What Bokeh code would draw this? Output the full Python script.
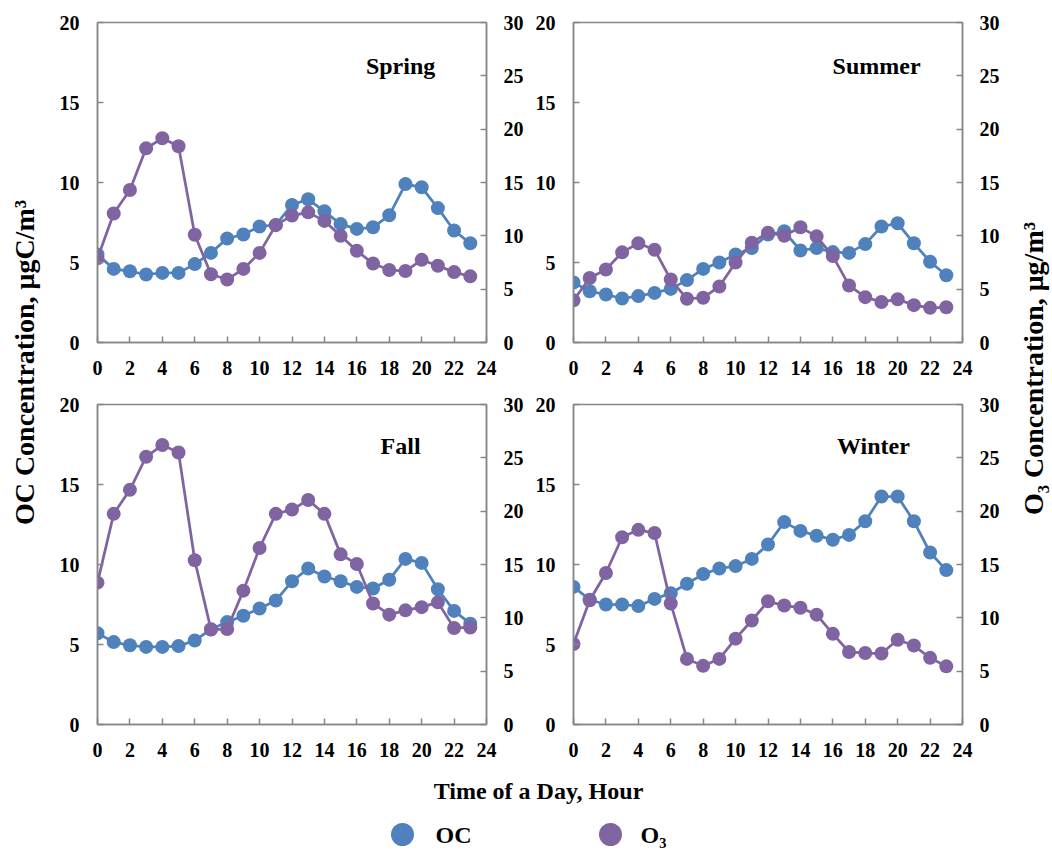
import math
from bokeh.plotting import figure
from bokeh.models import Range1d, LinearAxis, FixedTicker, Label
from bokeh.layouts import row, column
from bokeh.embed import file_html
from bokeh.resources import INLINE

hours = list(range(24))

spring_oc = [5.5, 4.6, 4.45, 4.25, 4.35, 4.35, 4.9, 5.6, 6.5, 6.75, 7.25, 7.35, 8.6, 8.95, 8.2, 7.4, 7.1, 7.2, 7.95, 9.9, 9.7, 8.4, 7.0, 6.2]
spring_o3 = [7.9, 12.1, 14.3, 18.2, 19.15, 18.4, 10.1, 6.4, 5.9, 6.9, 8.4, 11.0, 11.9, 12.2, 11.4, 10.0, 8.6, 7.4, 6.8, 6.7, 7.75, 7.2, 6.6, 6.2]

summer_oc = [3.75, 3.2, 3.0, 2.75, 2.9, 3.1, 3.35, 3.9, 4.6, 5.0, 5.5, 5.9, 6.75, 6.95, 5.75, 5.9, 5.65, 5.6, 6.15, 7.25, 7.45, 6.2, 5.05, 4.2]
summer_o3 = [3.95, 6.05, 6.85, 8.45, 9.3, 8.7, 5.9, 4.1, 4.2, 5.25, 7.5, 9.35, 10.3, 10.0, 10.8, 9.95, 8.1, 5.35, 4.25, 3.8, 4.05, 3.5, 3.25, 3.3]

fall_oc = [5.7, 5.15, 4.95, 4.85, 4.85, 4.9, 5.25, 5.95, 6.4, 6.8, 7.25, 7.75, 8.95, 9.75, 9.25, 8.95, 8.6, 8.5, 9.05, 10.35, 10.1, 8.45, 7.1, 6.3]
fall_o3 = [13.3, 19.75, 22.0, 25.1, 26.2, 25.5, 15.4, 8.9, 8.95, 12.55, 16.55, 19.75, 20.15, 21.05, 19.75, 15.95, 15.05, 11.35, 10.3, 10.7, 11.0, 11.45, 9.05, 9.1]

winter_oc = [8.6, 7.8, 7.5, 7.5, 7.4, 7.85, 8.2, 8.8, 9.4, 9.75, 9.9, 10.35, 11.25, 12.65, 12.1, 11.8, 11.55, 11.85, 12.7, 14.25, 14.25, 12.7, 10.75, 9.65]
winter_o3 = [7.55, 11.65, 14.2, 17.55, 18.25, 17.95, 11.35, 6.15, 5.5, 6.15, 8.05, 9.75, 11.55, 11.15, 10.95, 10.3, 8.5, 6.8, 6.7, 6.65, 7.95, 7.4, 6.25, 5.45]

x_ticks = [0, 2, 4, 6, 8, 10, 12, 14, 16, 18, 20, 22, 24]
oc_ticks = [0, 5, 10, 15, 20]
o3_ticks = [0, 5, 10, 15, 20, 25, 30]

OC_COLOR = "#4F81BD"
O3_COLOR = "#8064A2"
AXIS_COLOR = "#868686"
FONT = "Liberation Serif"


def style_axis(ax, standoff):
    ax.axis_line_color = AXIS_COLOR
    ax.axis_line_width = 1.5
    ax.major_tick_line_color = AXIS_COLOR
    ax.major_tick_line_width = 1.5
    ax.major_tick_in = 6
    ax.major_tick_out = 0
    ax.minor_tick_line_color = None
    ax.major_label_text_font = FONT
    ax.major_label_text_font_style = "bold"
    ax.major_label_text_font_size = "20px"
    ax.major_label_text_color = "black"
    ax.major_label_standoff = standoff


def panel(title, oc, o3, width, height, mb_left, mb_right, mb_top, mb_bottom, tx, ty):
    p = figure(width=width, height=height, output_backend="svg", toolbar_location=None,
               x_range=Range1d(0, 24), y_range=Range1d(0, 20),
               min_border_left=mb_left, min_border_right=mb_right,
               min_border_top=mb_top, min_border_bottom=mb_bottom)
    p.extra_y_ranges = {"o3": Range1d(0, 30)}
    p.grid.visible = False
    p.outline_line_color = AXIS_COLOR
    p.outline_line_width = 1.5
    p.background_fill_color = "white"
    p.border_fill_color = "white"
    p.xaxis.ticker = FixedTicker(ticks=x_ticks)
    p.yaxis.ticker = FixedTicker(ticks=oc_ticks)
    style_axis(p.xaxis[0], 18)
    style_axis(p.yaxis[0], 18)
    rax = LinearAxis(y_range_name="o3", ticker=FixedTicker(ticks=o3_ticks))
    style_axis(rax, 17)
    p.add_layout(rax, "right")

    p.line(hours, oc, line_color=OC_COLOR, line_width=2.75)
    p.scatter(hours, oc, size=14, fill_color=OC_COLOR, line_color=None)
    p.line(hours, o3, line_color=O3_COLOR, line_width=2.75, y_range_name="o3")
    p.scatter(hours, o3, size=14, fill_color=O3_COLOR, line_color=None, y_range_name="o3")

    p.add_layout(Label(x=tx, y=ty, text=title, text_font=FONT, text_font_style="bold",
                       text_font_size="24px", text_align="center", text_baseline="middle",
                       text_color="black"))
    return p


tl = panel("Spring", spring_oc, spring_o3, 484, 390, 51, 44, 22, 48, 18.7, 17.3)
tr = panel("Summer", summer_oc, summer_o3, 478, 390, 43, 46, 22, 48, 18.7, 17.3)
bl = panel("Fall", fall_oc, fall_o3, 484, 374, 51, 44, 14, 40, 18.7, 17.4)
br = panel("Winter", winter_oc, winter_o3, 478, 374, 43, 46, 14, 40, 18.5, 17.4)


def blank(width, height, xr, yr):
    f = figure(width=width, height=height, output_backend="svg", toolbar_location=None,
               x_range=Range1d(*xr), y_range=Range1d(*yr),
               min_border=0, min_border_left=0, min_border_right=0,
               min_border_top=0, min_border_bottom=0)
    f.axis.visible = False
    f.grid.visible = False
    f.outline_line_color = None
    f.border_fill_color = "white"
    f.background_fill_color = "white"
    return f


left_lab = blank(46, 764, (0, 46), (764, 0))
left_lab.add_layout(Label(x=24, y=362, text="OC Concentration, μgC/m³", angle=math.pi / 2,
                          text_font=FONT, text_font_style="bold", text_font_size="28px",
                          text_align="center", text_baseline="middle", text_color="black"))

right_lab = blank(44, 764, (0, 44), (764, 0))
right_lab.add_layout(Label(x=25, y=368, text="O₃ Concentration, μg/m³", angle=math.pi / 2,
                           text_font=FONT, text_font_style="bold", text_font_size="28px",
                           text_align="center", text_baseline="middle", text_color="black"))

bottom = blank(1052, 85, (0, 1052), (85, 0))
bottom.add_layout(Label(x=538, y=26, text="Time of a Day, Hour", text_font=FONT,
                        text_font_style="bold", text_font_size="24px", text_align="center",
                        text_baseline="middle", text_color="black"))
# legend
bottom.scatter(x=[402], y=[70], size=23, fill_color=OC_COLOR, line_color=None)
bottom.add_layout(Label(x=435, y=70, text="OC", text_font=FONT, text_font_style="bold",
                        text_font_size="24px", text_align="left", text_baseline="middle",
                        text_color="black"))
bottom.scatter(x=[610], y=[70], size=23, fill_color=O3_COLOR, line_color=None)
bottom.add_layout(Label(x=640, y=70, text="O₃", text_font=FONT, text_font_style="bold",
                        text_font_size="24px", text_align="left", text_baseline="middle",
                        text_color="black"))

grid = column(row(tl, tr), row(bl, br))
top = row(left_lab, grid, right_lab)
root = column(top, bottom)

open("out.html", "w").write(file_html(root, INLINE))
